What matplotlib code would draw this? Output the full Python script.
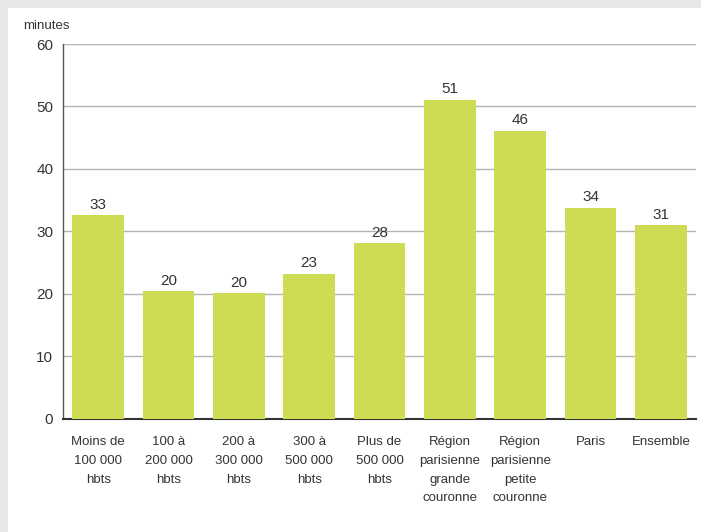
import matplotlib
matplotlib.use("Agg")
import matplotlib.pyplot as plt
from matplotlib.patches import Rectangle

categories = ["Moins de\n100 000\nhbts", "100 à\n200 000\nhbts", "200 à\n300 000\nhbts",
              "300 à\n500 000\nhbts", "Plus de\n500 000\nhbts",
              "Région\nparisienne\ngrande\ncouronne", "Région\nparisienne\npetite\ncouronne",
              "Paris", "Ensemble"]
values = [32.6, 20.4, 20.1, 23.2, 28.1, 51.1, 46.1, 33.8, 31.0]
value_labels = ["33", "20", "20", "23", "28", "51", "46", "34", "31"]
yticks = [0, 10, 20, 30, 40, 50, 60]

plt.rcParams['font.family'] = ['Liberation Sans', 'DejaVu Sans']
TXT = "#333333"

W, H = 701, 532
fig = plt.figure(figsize=(W / 100, H / 100), dpi=100, facecolor="white")
fig.patches.append(Rectangle((0, 1 - 8 / H), 1, 8 / H, transform=fig.transFigure,
                             facecolor="#e6e7e8", edgecolor="none", zorder=0))
fig.patches.append(Rectangle((0, 0), 8 / W, 1, transform=fig.transFigure,
                             facecolor="#e6e7e8", edgecolor="none", zorder=0))

left, right = 63 / W, 696 / W
bottom, top = (H - 418.5) / H, (H - 44) / H
ax = fig.add_axes([left, bottom, right - left, top - bottom])

x = list(range(len(categories)))
ax.bar(x, values, width=0.73, color="#cddc52", zorder=3)
for xi, v, lab in zip(x, values, value_labels):
    ax.annotate(lab, (xi, v), xytext=(0, 2.5), textcoords="offset points",
                ha="center", va="bottom", fontsize=11, color=TXT)

ax.set_xlim(-0.5, len(categories) - 0.5)
ax.set_ylim(0, 60)
ax.set_yticks(yticks)
ax.set_xticks(x)
ax.set_xticklabels(categories, fontsize=9.5, color=TXT, linespacing=1.76)
ax.tick_params(axis="x", length=0, pad=12.5)
ax.tick_params(axis="y", length=0, pad=7, labelsize=11, labelcolor=TXT)
ax.yaxis.grid(True, color="#b4b4b4", linewidth=1.0, zorder=0)
ax.set_axisbelow(True)
for s in ["top", "right"]:
    ax.spines[s].set_visible(False)
ax.spines["left"].set_color("#555555")
ax.spines["left"].set_linewidth(1.0)
ax.spines["bottom"].set_color("#333333")
ax.spines["bottom"].set_linewidth(1.5)

fig.text(23 / W, 1 - 26 / H, "minutes", ha="left", va="center", fontsize=9.5, color=TXT)

fig.savefig("out.png", dpi=100, facecolor="white")
